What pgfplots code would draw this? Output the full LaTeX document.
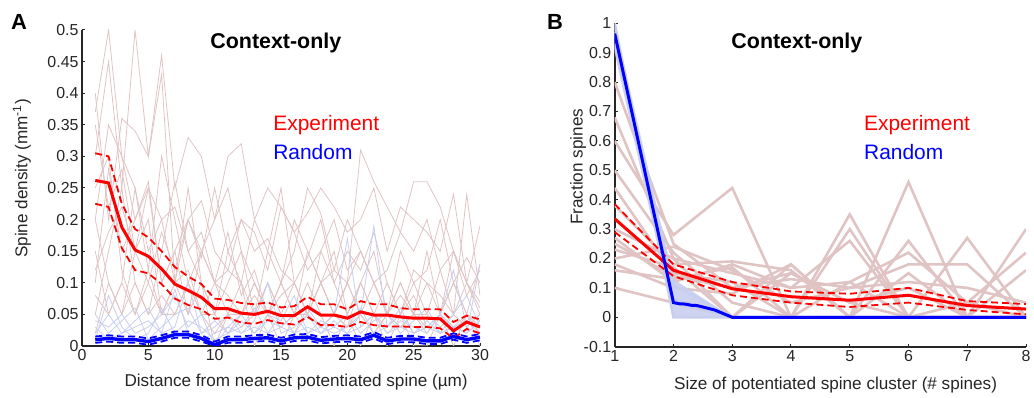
\documentclass[border=0pt]{standalone}
\usepackage{fontspec}
\setmainfont{Liberation Sans}
\usepackage{pgfplots}
\pgfplotsset{compat=1.18}
\definecolor{pinkl}{RGB}{224,196,196}
\definecolor{bluel}{RGB}{200,206,238}
\definecolor{axc}{RGB}{38,38,38}
\definecolor{myred}{RGB}{255,0,0}
\definecolor{myblue}{RGB}{0,0,255}
\pgfplotsset{
 mystyle/.style={scale only axis, axis x line*=bottom, axis y line*=left,
   axis line style={line width=1.6bp, axc, -},
   every outer x axis line/.append style={-}, every outer y axis line/.append style={-},
   tick align=inside, major tick length=3bp, tick style={axc, line width=1bp},
   ticklabel style={font=\fontsize{16}{18}\selectfont, text=axc},
   label style={font=\fontsize{17.2}{19}\selectfont, text=axc}},
 trA/.style={pinkl, line width=0.8bp},
 trAb/.style={bluel, line width=0.8bp},
 trB/.style={pinkl, line width=2.6bp},
 /pgfplots/table/tab/.style={/pgfplots/table/x expr=\coordindex+1, /pgfplots/table/y index=0, /pgfplots/table/header=false, /pgfplots/table/row sep=\\},
}
\begin{document}
\begin{tikzpicture}
\useasboundingbox (0,0) rectangle (1034bp,398bp);
\begin{axis}[mystyle, at={(82bp,52bp)}, anchor=south west, width=398bp, height=316bp,
  xmin=0, xmax=30, ymin=0, ymax=0.5,
  xtick={0,5,10,15,20,25,30}, xticklabels={0,5,10,15,20,25,30},
  ytick={0,0.05,0.1,0.15,0.2,0.25,0.3,0.35,0.4,0.45,0.5},
  yticklabels={0,0.05,0.1,0.15,0.2,0.25,0.3,0.35,0.4,0.45,0.5},
  xlabel={Distance from nearest potentiated spine (µm)},
  ylabel={Spine density (mm\textsuperscript{-1})},
  x label style={at={(axis description cs:0.538,-0.114)}, anchor=center},
  y label style={at={(axis description cs:-0.151,0.53)}, anchor=center}]
% individual experiment traces
\addplot[trA] table[tab]{0.37\\0.50\\0.30\\0.20\\0.25\\0.10\\0.15\\0.05\\0.10\\0.00\\0.05\\0.10\\0.00\\0.05\\0.00\\0.05\\0.10\\0.05\\0.00\\0.05\\0.00\\0.05\\0.00\\0.05\\0.00\\0.00\\0.05\\0.00\\0.05\\0.00\\};
\addplot[trA] table[tab]{0.30\\0.45\\0.25\\0.50\\0.30\\0.46\\0.25\\0.33\\0.30\\0.20\\0.30\\0.32\\0.20\\0.25\\0.22\\0.18\\0.21\\0.25\\0.22\\0.18\\0.20\\0.25\\0.15\\0.22\\0.20\\0.18\\0.15\\0.24\\0.10\\0.19\\};
\addplot[trA] table[tab]{0.40\\0.20\\0.36\\0.34\\0.30\\0.43\\0.10\\0.20\\0.15\\0.10\\0.18\\0.08\\0.12\\0.05\\0.10\\0.15\\0.25\\0.21\\0.12\\0.10\\0.31\\0.26\\0.22\\0.18\\0.26\\0.26\\0.22\\0.15\\0.10\\0.05\\};
\addplot[trA] table[tab]{0.20\\0.35\\0.30\\0.25\\0.15\\0.20\\0.10\\0.12\\0.05\\0.10\\0.08\\0.05\\0.10\\0.05\\0.08\\0.10\\0.05\\0.03\\0.05\\0.10\\0.05\\0.02\\0.05\\0.08\\0.05\\0.03\\0.05\\0.02\\0.05\\0.03\\};
\addplot[trA] table[tab]{0.10\\0.28\\0.15\\0.20\\0.26\\0.10\\0.15\\0.20\\0.23\\0.15\\0.12\\0.10\\0.20\\0.15\\0.10\\0.05\\0.15\\0.10\\0.05\\0.10\\0.15\\0.10\\0.05\\0.10\\0.05\\0.10\\0.05\\0.15\\0.08\\0.12\\};
\addplot[trA] table[tab]{0.05\\0.15\\0.25\\0.10\\0.05\\0.15\\0.26\\0.15\\0.10\\0.05\\0.10\\0.15\\0.05\\0.10\\0.05\\0.10\\0.05\\0.15\\0.10\\0.05\\0.10\\0.05\\0.10\\0.05\\0.10\\0.05\\0.12\\0.05\\0.24\\0.08\\};
\addplot[trA] table[tab]{0.15\\0.05\\0.10\\0.25\\0.12\\0.30\\0.20\\0.10\\0.15\\0.20\\0.25\\0.15\\0.10\\0.05\\0.10\\0.20\\0.15\\0.10\\0.12\\0.20\\0.15\\0.10\\0.05\\0.15\\0.10\\0.12\\0.20\\0.10\\0.14\\0.10\\};
\addplot[trA] table[tab]{0.25\\0.30\\0.12\\0.05\\0.10\\0.05\\0.10\\0.05\\0.15\\0.10\\0.05\\0.05\\0.10\\0.05\\0.10\\0.05\\0.05\\0.10\\0.05\\0.03\\0.05\\0.10\\0.05\\0.03\\0.05\\0.05\\0.03\\0.05\\0.03\\0.05\\};
\addplot[trA] table[tab]{0.02\\0.10\\0.05\\0.15\\0.20\\0.05\\0.10\\0.25\\0.10\\0.05\\0.15\\0.10\\0.05\\0.15\\0.25\\0.10\\0.05\\0.10\\0.15\\0.05\\0.10\\0.15\\0.05\\0.10\\0.05\\0.15\\0.05\\0.10\\0.05\\0.13\\};
\addplot[trA] table[tab]{0.20\\0.10\\0.05\\0.10\\0.05\\0.08\\0.05\\0.10\\0.05\\0.02\\0.05\\0.03\\0.05\\0.10\\0.05\\0.02\\0.05\\0.03\\0.05\\0.10\\0.05\\0.02\\0.05\\0.03\\0.05\\0.02\\0.05\\0.03\\0.05\\0.02\\};
\addplot[trA] table[tab]{0.35\\0.22\\0.28\\0.15\\0.25\\0.20\\0.22\\0.15\\0.18\\0.10\\0.12\\0.20\\0.15\\0.17\\0.12\\0.10\\0.14\\0.20\\0.10\\0.15\\0.12\\0.18\\0.10\\0.05\\0.12\\0.10\\0.08\\0.05\\0.10\\0.07\\};
\addplot[trA] table[tab]{0.08\\0.05\\0.10\\0.05\\0.12\\0.05\\0.05\\0.10\\0.05\\0.05\\0.02\\0.05\\0.08\\0.05\\0.03\\0.05\\0.05\\0.10\\0.05\\0.03\\0.10\\0.05\\0.03\\0.05\\0.08\\0.03\\0.05\\0.10\\0.05\\0.04\\};
\addplot[trA] table[tab]{0.12\\0.18\\0.22\\0.15\\0.10\\0.18\\0.12\\0.20\\0.14\\0.25\\0.15\\0.20\\0.18\\0.12\\0.22\\0.18\\0.12\\0.15\\0.20\\0.12\\0.15\\0.10\\0.12\\0.18\\0.15\\0.20\\0.12\\0.15\\0.10\\0.06\\};
% individual random traces
\addplot[trAb] table[tab]{0.04\\0.03\\0.05\\0.02\\0.03\\0.05\\0.08\\0.03\\0.05\\0.00\\0.03\\0.05\\0.02\\0.04\\0.03\\0.05\\0.02\\0.03\\0.05\\0.17\\0.03\\0.05\\0.02\\0.04\\0.03\\0.02\\0.05\\0.03\\0.02\\0.13\\};
\addplot[trAb] table[tab]{0.02\\0.05\\0.02\\0.04\\0.06\\0.02\\0.03\\0.10\\0.02\\0.03\\0.05\\0.02\\0.04\\0.10\\0.02\\0.03\\0.05\\0.02\\0.04\\0.02\\0.05\\0.19\\0.03\\0.05\\0.02\\0.03\\0.05\\0.12\\0.03\\0.05\\};
\addplot[trAb] table[tab]{0.01\\0.08\\0.03\\0.01\\0.02\\0.06\\0.02\\0.04\\0.03\\0.01\\0.02\\0.03\\0.06\\0.02\\0.03\\0.02\\0.06\\0.03\\0.02\\0.03\\0.06\\0.02\\0.03\\0.06\\0.02\\0.03\\0.02\\0.05\\0.08\\0.03\\};
\addplot[trAb] table[tab]{0.05\\0.02\\0.04\\0.06\\0.01\\0.03\\0.05\\0.06\\0.02\\0.04\\0.02\\0.04\\0.02\\0.05\\0.04\\0.08\\0.02\\0.04\\0.03\\0.05\\0.02\\0.04\\0.05\\0.02\\0.04\\0.06\\0.02\\0.03\\0.04\\0.02\\};
\addplot[trAb] table[tab]{0.03\\0.01\\0.02\\0.03\\0.04\\0.02\\0.09\\0.02\\0.01\\0.02\\0.03\\0.02\\0.03\\0.02\\0.05\\0.02\\0.03\\0.02\\0.03\\0.02\\0.03\\0.05\\0.02\\0.03\\0.02\\0.04\\0.02\\0.03\\0.02\\0.04\\};
% experiment mean and SEM
\addplot[myred, line width=1.8bp, dash pattern=on 7bp off 4bp] table[tab]{0.305\\0.300\\0.225\\0.185\\0.172\\0.150\\0.125\\0.110\\0.098\\0.075\\0.073\\0.068\\0.066\\0.069\\0.061\\0.063\\0.078\\0.066\\0.066\\0.058\\0.071\\0.066\\0.066\\0.060\\0.058\\0.058\\0.058\\0.038\\0.048\\0.042\\};
\addplot[myred, line width=1.8bp, dash pattern=on 7bp off 4bp] table[tab]{0.225\\0.220\\0.155\\0.120\\0.115\\0.098\\0.075\\0.065\\0.058\\0.043\\0.045\\0.037\\0.035\\0.041\\0.036\\0.034\\0.046\\0.033\\0.033\\0.030\\0.038\\0.033\\0.031\\0.031\\0.030\\0.030\\0.028\\0.012\\0.027\\0.020\\};
\addplot[myred, line width=3bp] table[tab]{0.262\\0.258\\0.188\\0.152\\0.142\\0.122\\0.098\\0.088\\0.077\\0.059\\0.059\\0.052\\0.050\\0.055\\0.048\\0.048\\0.062\\0.049\\0.049\\0.044\\0.054\\0.049\\0.049\\0.046\\0.044\\0.044\\0.043\\0.024\\0.038\\0.030\\};
% random mean and SEM
\addplot[myblue, line width=1.8bp, dash pattern=on 7bp off 4bp] table[tab]{0.015\\0.017\\0.015\\0.015\\0.012\\0.017\\0.023\\0.023\\0.017\\0.007\\0.015\\0.015\\0.017\\0.018\\0.013\\0.018\\0.019\\0.014\\0.016\\0.017\\0.015\\0.022\\0.013\\0.016\\0.016\\0.013\\0.013\\0.020\\0.015\\0.019\\};
\addplot[myblue, line width=1.8bp, dash pattern=on 7bp off 4bp] table[tab]{0.005\\0.007\\0.005\\0.005\\0.002\\0.007\\0.013\\0.013\\0.007\\0.000\\0.005\\0.005\\0.007\\0.008\\0.003\\0.008\\0.009\\0.004\\0.006\\0.007\\0.005\\0.012\\0.003\\0.006\\0.006\\0.003\\0.003\\0.010\\0.005\\0.009\\};
\addplot[myblue, line width=3.4bp] table[tab]{0.010\\0.012\\0.010\\0.010\\0.007\\0.012\\0.018\\0.018\\0.012\\0.002\\0.010\\0.010\\0.012\\0.013\\0.008\\0.013\\0.014\\0.009\\0.011\\0.012\\0.010\\0.017\\0.008\\0.011\\0.011\\0.008\\0.008\\0.015\\0.010\\0.014\\};
\node[font=\bfseries\fontsize{21.5}{24}\selectfont] at (rel axis cs:0.487,0.959) {Context-only};
\node[anchor=west, text=myred, font=\fontsize{21}{24}\selectfont] at (rel axis cs:0.472,0.699) {Experiment};
\node[anchor=west, text=myblue, font=\fontsize{21}{24}\selectfont] at (rel axis cs:0.472,0.614) {Random};
\end{axis}
\node[font=\bfseries\fontsize{22}{24}\selectfont] at (19bp,376bp) {A};
\node[font=\bfseries\fontsize{22}{24}\selectfont] at (555bp,376bp) {B};
\begin{axis}[mystyle, at={(614.7bp,51.3bp)}, anchor=south west, width=411.3bp, height=323.4bp,
  xmin=1, xmax=8, ymin=-0.1, ymax=1,
  xtick={1,2,3,4,5,6,7,8}, xticklabels={1,2,3,4,5,6,7,8},
  ytick={-0.1,0,0.1,0.2,0.3,0.4,0.5,0.6,0.7,0.8,0.9,1},
  yticklabels={-0.1,0,0.1,0.2,0.3,0.4,0.5,0.6,0.7,0.8,0.9,1},
  xlabel={Size of potentiated spine cluster (\# spines)},
  ylabel={Fraction spines},
  x label style={at={(axis description cs:0.537,-0.1175)}, anchor=center},
  y label style={at={(axis description cs:-0.089,0.556)}, anchor=center}]
\addplot[trB] table[tab]{0.80\\0.25\\0.10\\0.15\\0.05\\0.00\\0.00\\0.00\\};
\addplot[trB] table[tab]{0.68\\0.20\\0.00\\0.18\\0.00\\0.46\\0.00\\0.00\\};
\addplot[trB] table[tab]{0.60\\0.28\\0.44\\0.00\\0.00\\0.00\\0.00\\0.00\\};
\addplot[trB] table[tab]{0.50\\0.22\\0.05\\0.00\\0.35\\0.00\\0.00\\0.00\\};
\addplot[trB] table[tab]{0.44\\0.15\\0.12\\0.00\\0.30\\0.00\\0.00\\0.30\\};
\addplot[trB] table[tab]{0.38\\0.18\\0.19\\0.16\\0.00\\0.26\\0.00\\0.00\\};
\addplot[trB] table[tab]{0.30\\0.20\\0.15\\0.10\\0.26\\0.00\\0.27\\0.00\\};
\addplot[trB] table[tab]{0.27\\0.12\\0.18\\0.10\\0.12\\0.22\\0.05\\0.22\\};
\addplot[trB] table[tab]{0.25\\0.14\\0.10\\0.13\\0.10\\0.18\\0.18\\0.00\\};
\addplot[trB] table[tab]{0.23\\0.17\\0.00\\0.15\\0.05\\0.10\\0.00\\0.16\\};
\addplot[trB] table[tab]{0.20\\0.24\\0.16\\0.05\\0.10\\0.12\\0.10\\0.05\\};
\addplot[trB] table[tab]{0.18\\0.10\\0.08\\0.18\\0.00\\0.15\\0.00\\0.00\\};
\addplot[trB] table[tab]{0.16\\0.13\\0.17\\0.00\\0.12\\0.00\\0.05\\0.00\\};
\addplot[trB] table[tab]{0.10\\0.05\\0.00\\0.00\\0.00\\0.00\\0.00\\0.00\\};
% random band and traces
\addplot[fill=bluel, draw=none, fill opacity=0.9] coordinates {(1,1.0) (2,0.13) (3,0) (3,0) (2,0) (1,0.90)} -- cycle;
\addplot[bluel, line width=2.6bp] coordinates {(1,1.0) (2,0) (3,0) (8,0)};
\addplot[bluel, line width=2.6bp] coordinates {(1,0.97) (2,0.06) (3,0)};
\addplot[bluel, line width=2.6bp] coordinates {(1,0.93) (2,0.11) (3,0)};
% experiment mean and SEM
\addplot[myred, line width=1.8bp, dash pattern=on 7bp off 4bp] coordinates {(1,0.385) (2,0.18) (3,0.12) (4,0.088) (5,0.08) (6,0.10) (7,0.055) (8,0.045)};
\addplot[myred, line width=1.8bp, dash pattern=on 7bp off 4bp] coordinates {(1,0.29) (2,0.14) (3,0.075) (4,0.05) (5,0.035) (6,0.05) (7,0.025) (8,0.01)};
\addplot[myred, line width=3bp] coordinates {(1,0.335) (2,0.16) (3,0.097) (4,0.07) (5,0.058) (6,0.075) (7,0.04) (8,0.028)};
% random mean
\addplot[myblue, line width=3bp] coordinates {(1,0.965) (2,0.05) (2.1,0.046) (2.2,0.045) (2.3,0.041) (2.4,0.040) (2.5,0.035) (2.7,0.025) (3,0) (8,0)};
\node[font=\bfseries\fontsize{21.5}{24}\selectfont] at (rel axis cs:0.443,0.939) {Context-only};
\node[anchor=west, text=myred, font=\fontsize{21}{24}\selectfont] at (rel axis cs:0.598,0.686) {Experiment};
\node[anchor=west, text=myblue, font=\fontsize{21}{24}\selectfont] at (rel axis cs:0.598,0.602) {Random};
\end{axis}
\end{tikzpicture}
\end{document}
